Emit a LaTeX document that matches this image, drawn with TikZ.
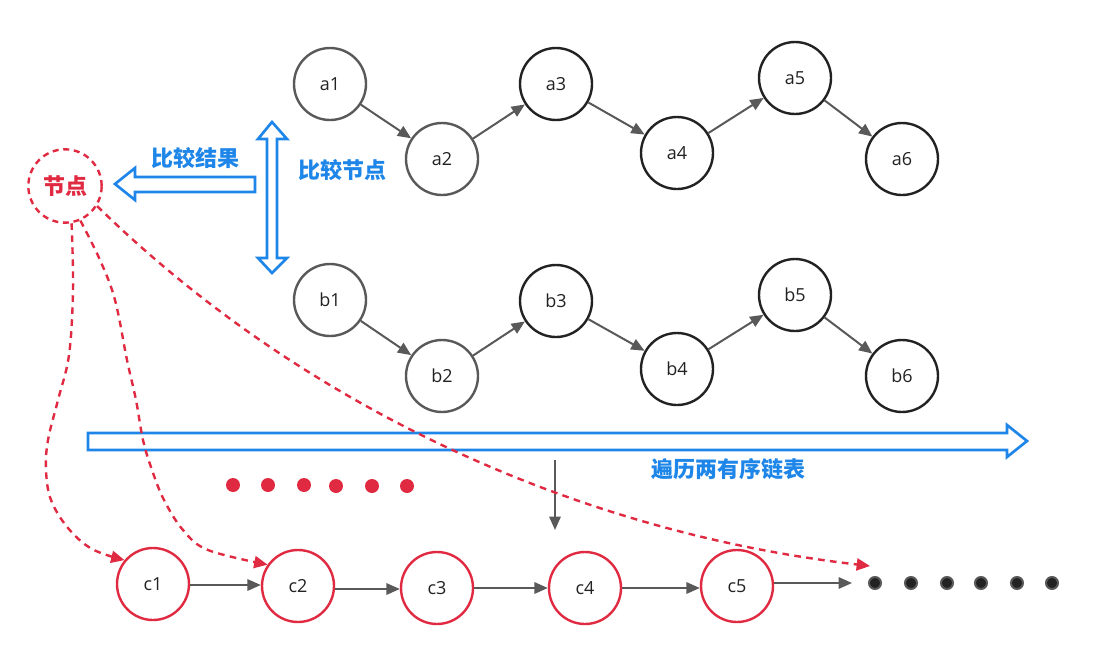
\documentclass[tikz,border=0pt]{standalone}
\usepackage{fontspec}
\setmainfont{Open Sans}
\newfontfamily\cjk{Noto Sans CJK SC}
\usetikzlibrary{arrows.meta}
\definecolor{cblue}{HTML}{1E86E8}
\definecolor{cred}{HTML}{E02A42}
\definecolor{cgray}{HTML}{595959}
\definecolor{cdark}{HTML}{222222}
\tikzset{
  nd/.style={circle, line width=1.8pt, minimum size=54pt, inner sep=0pt, fill=white, font=\fontsize{13.5}{15}\selectfont, text=cdark},
  ndg/.style={nd, draw=cgray},
  ndk/.style={nd, draw=cdark},
  ndr/.style={nd, draw=cred},
  arr/.style={cgray, line width=1.5pt, -{Triangle[length=10pt,width=8.5pt]}},
  rarr/.style={cred, line width=1.8pt, dash pattern=on 5pt off 4pt, -{Triangle[length=10pt,width=9pt]}},
  hollow/.style={draw=cblue, line width=2pt, fill=white, line join=miter},
  lbl/.style={font=\cjk\bfseries\fontsize{16.5}{18}\selectfont, text=cblue},
  rdot/.style={circle, fill=cred, inner sep=0pt, minimum size=10.5pt},
  kdot/.style={circle, fill=cdark, draw=cgray, line width=1.5pt, inner sep=0pt, minimum size=9pt},
}
\begin{document}
\begin{tikzpicture}[x=0.75pt, y=-0.75pt]
\useasboundingbox (0,0) rectangle (1108,657);
% hollow arrows
\draw[hollow] (255,177) -- (135,177) -- (135,168) -- (115,184) -- (135,200) -- (135,192) -- (255,192) -- cycle;
\draw[hollow] (267,139) -- (258,139) -- (272,122) -- (287,139) -- (277,139) -- (277,258) -- (287,258) -- (272,273) -- (258,258) -- (267,258) -- cycle;
\draw[hollow] (88,433) -- (1007,433) -- (1007,425) -- (1027,441) -- (1007,457) -- (1007,450) -- (88,450) -- cycle;
% labels
\node[lbl] (lres) at (195,158) {比较结果};
\node[lbl, anchor=west] (lcmp) at (294,170) {比较节点};
\node[lbl] (ltrav) at (728,469) {遍历两有序链表};
% list a
\node[ndg] (a1) at (330,84) {a1};
\node[ndg] (a2) at (442,159) {a2};
\node[ndk] (a3) at (556,84) {a3};
\node[ndk] (a4) at (677,153) {a4};
\node[ndk] (a5) at (795,78) {a5};
\node[ndk] (a6) at (902,159) {a6};
% list b
\node[ndg] (b1) at (330,300) {b1};
\node[ndg] (b2) at (442,376) {b2};
\node[ndk] (b3) at (556,301) {b3};
\node[ndk] (b4) at (677,369) {b4};
\node[ndk] (b5) at (795,295) {b5};
\node[ndk] (b6) at (902,376) {b6};
\foreach \p/\q in {a1/a2,a2/a3,a3/a4,a4/a5,a5/a6,b1/b2,b2/b3,b3/b4,b4/b5,b5/b6}
  \draw[arr] (\p) -- (\q);
% list c
\node[ndr] (c1) at (153,584) {c1};
\node[ndr] (c2) at (298,586) {c2};
\node[ndr] (c3) at (437,588) {c3};
\node[ndr] (c4) at (585,588) {c4};
\node[ndr] (c5) at (737,586) {c5};
\draw[arr] (c1.east |- 0,585) -- (c2.west |- 0,585);
\draw[arr] (c2.east |- 0,589) -- (c3.west |- 0,589);
\draw[arr] (c3.east |- 0,588) -- (c4.west |- 0,588);
\draw[arr] (c4.east |- 0,588) -- (c5.west |- 0,588);
\coordinate (cend) at (852,583);
\draw[arr] (c5.east |- 0,583) -- (cend);
% down arrow
\coordinate (dtop) at (555,460);
\coordinate (dbot) at (555,530);
\draw[arr] (dtop) -- (dbot);
% dots
\foreach \x/\y [count=\i] in {233/485,268/485,304/485,336/486,372/486,407/486}
  \node[rdot] (r\i) at (\x,\y) {};
\foreach \x [count=\i] in {875,911,947,981,1017,1052}
  \node[kdot] (k\i) at (\x,583) {};
% node circle
\node[circle, draw=cred, line width=1.8pt, dash pattern=on 4.5pt off 3.5pt, minimum size=55pt, inner sep=0pt,
  font=\cjk\bfseries\fontsize{16.5}{18}\selectfont, text=cred] (nd) at (65,186) {节点};
% red dashed curves
\coordinate (e3) at (870,566);
\draw[rarr] plot[smooth, tension=0.6] coordinates {(nd.-80) (73,290) (69,355) (58,400) (48,440) (46,470) (51,500) (68,528) (92,549) (c1.140)};
\draw[rarr] plot[smooth, tension=0.6] coordinates {(nd.-66) (100,260) (115,300) (127,360) (136,400) (143,440) (152,470) (164,500) (183,530) (208,550) (c2.145)};
\draw[rarr] (nd.-32) .. controls (290,395) and (560,530) .. (e3);
\end{tikzpicture}
\end{document}
